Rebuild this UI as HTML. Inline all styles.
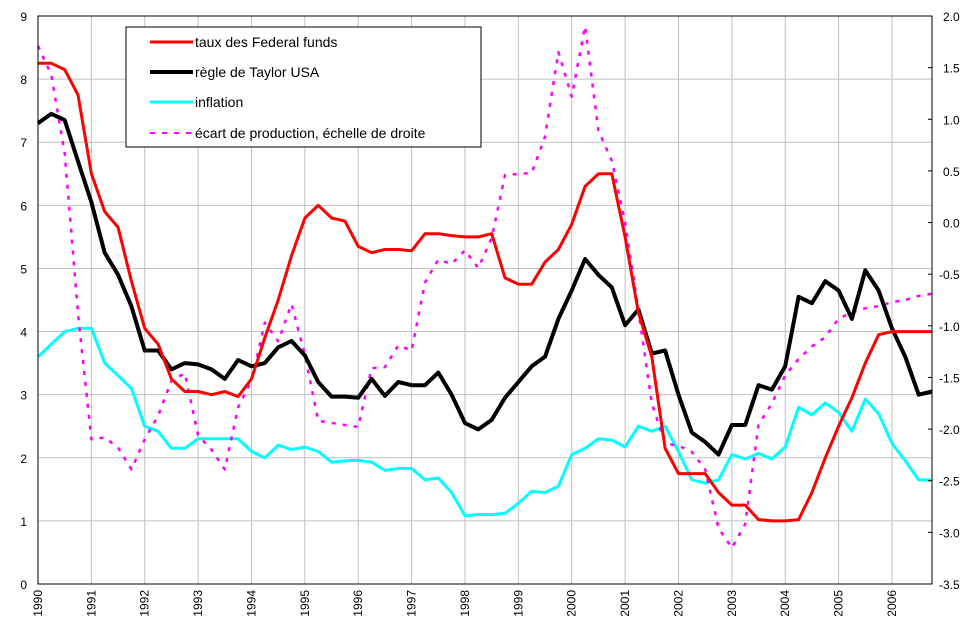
<!DOCTYPE html>
<html><head><meta charset="utf-8"><style>
html,body{margin:0;padding:0;background:#fff;}
svg text{font-family:"Liberation Sans",Arial,sans-serif;}
</style></head><body>
<svg id="chart" width="972" height="631" xmlns="http://www.w3.org/2000/svg">
<g id="grid"></g>
<g id="series"></g>
<rect x="38" y="16" width="894" height="568" fill="none" stroke="#000" stroke-width="1"/>
<g id="axes"></g>
<g>
<rect x="126" y="27" width="355" height="120" fill="#fff" stroke="#000" stroke-width="1"/>
<line x1="150" y1="42" x2="193" y2="42" stroke="#ff0000" stroke-width="3"/>
<text x="195" y="47" font-size="14">taux des Federal funds</text>
<line x1="150" y1="72" x2="193" y2="72" stroke="#000" stroke-width="4"/>
<text x="195" y="77" font-size="14">règle de Taylor USA</text>
<line x1="150" y1="102" x2="193" y2="102" stroke="#00ffff" stroke-width="3"/>
<text x="195" y="107" font-size="14">inflation</text>
<line x1="150" y1="133" x2="193" y2="133" stroke="#ff00ff" stroke-width="2" stroke-dasharray="5,7"/>
<text x="195" y="138" font-size="14">écart de production, échelle de droite</text>
</g>
</svg>
<script>
const years = ["1990","1991","1992","1993","1994","1995","1996","1997","1998","1999","2000","2001","2002","2003","2004","2005","2006"];
const leftTicks = [0,1,2,3,4,5,6,7,8,9];
const rightTicks = ["2.0","1.5","1.0","0.5","0.0","-0.5","-1.0","-1.5","-2.0","-2.5","-3.0","-3.5"];
const fedFunds = [8.25,8.25,8.15,7.75, 6.5,5.9,5.65,4.8, 4.05,3.8,3.25,3.05, 3.05,3.0,3.05,2.97, 3.25,3.9,4.5,5.2, 5.8,6.0,5.8,5.75, 5.35,5.25,5.3,5.3, 5.28,5.55,5.55,5.52, 5.5,5.5,5.55,4.85, 4.75,4.75,5.1,5.3, 5.7,6.3,6.5,6.5, 5.5,4.3,3.6,2.15, 1.75,1.75,1.75,1.45, 1.25,1.25,1.02,1.0, 1.0,1.02,1.45,2.0, 2.5,2.95,3.5,3.95, 4.0,4.0,4.0,4.0];
const taylor = [7.3,7.45,7.35,6.7, 6.05,5.25,4.9,4.4, 3.7,3.7,3.4,3.5, 3.48,3.4,3.25,3.55, 3.45,3.5,3.75,3.85, 3.62,3.2,2.97,2.97, 2.95,3.25,2.98,3.2, 3.15,3.15,3.35,3.0, 2.55,2.45,2.6,2.95, 3.2,3.45,3.6,4.2, 4.65,5.15,4.9,4.7, 4.1,4.35,3.65,3.7, 3.0,2.4,2.25,2.05, 2.52,2.52,3.15,3.08, 3.45,4.55,4.45,4.8, 4.65,4.2,4.97,4.65, 4.05,3.6,3.0,3.05];
const inflation = [3.6,3.8,4.0,4.05, 4.05,3.5,3.3,3.1, 2.5,2.42,2.15,2.15, 2.3,2.3,2.3,2.3, 2.1,2.0,2.2,2.13, 2.17,2.1,1.93,1.95, 1.96,1.93,1.8,1.83, 1.83,1.65,1.68,1.45, 1.08,1.1,1.1,1.12, 1.28,1.47,1.45,1.55, 2.05,2.15,2.3,2.28, 2.17,2.5,2.42,2.5, 2.1,1.65,1.6,1.65, 2.05,1.98,2.07,1.98, 2.17,2.8,2.68,2.87, 2.72,2.42,2.93,2.7, 2.23,1.95,1.65,1.65];
const outputGap = [1.71,1.43,0.67,-0.88, -2.1,-2.08,-2.18,-2.39, -2.1,-1.87,-1.53,-1.46, -2.06,-2.2,-2.39,-1.79, -1.53,-0.97,-1.15,-0.79, -1.28,-1.92,-1.94,-1.96, -1.98,-1.41,-1.40,-1.19, -1.24,-0.58,-0.36,-0.40, -0.27,-0.44,-0.15,0.46, 0.47,0.48,0.83,1.65, 1.22,1.9,0.89,0.6, 0.0,-0.85,-1.75,-2.14, -2.16,-2.22,-2.39,-2.96, -3.15,-2.92,-1.96,-1.75, -1.48,-1.32,-1.20,-1.11, -0.93,-0.87,-0.83,-0.81, -0.77,-0.75,-0.71,-0.69];

const NS="http://www.w3.org/2000/svg";
const X0=38,X1=932,Y0=584,Y1=16;
const nQ=fedFunds.length;
function xq(i){return X0+i*(X1-X0)/(nQ-1);}
function xYear(k){return X0+k*4*(X1-X0)/(nQ-1);}
function yL(v){return Y0-(v-0)/(9-0)*(Y0-Y1);}
function yR(v){return Y0-(v+3.5)/(2+3.5)*(Y0-Y1);}
function mk(tag,attrs,parent){const e=document.createElementNS(NS,tag);for(const k in attrs)e.setAttribute(k,attrs[k]);parent.appendChild(e);return e;}
const grid=document.getElementById('grid'),axes=document.getElementById('axes'),ser=document.getElementById('series');
leftTicks.forEach(v=>{
  const y=yL(v);
  if(v>0&&v<9){const l=mk('line',{x1:X0,x2:X1,y1:y,y2:y,stroke:'#c0c0c0','stroke-width':1},grid);
  
  }
  const t=mk('text',{x:27,y:y+5,'font-size':12,'text-anchor':'end'},axes);
  
  
  t.textContent=v;
});
years.forEach((yr,k)=>{
  const x=xYear(k);
  if(k>0){const l=mk('line',{x1:x,x2:x,y1:Y1,y2:Y0,stroke:'#c0c0c0','stroke-width':1},grid);
  
  }
  const t=mk('text',{x:0,y:0,'font-size':12,'text-anchor':'end',transform:`translate(${x+4},${Y0+6}) rotate(-90)`},axes);
  
  
  t.textContent=yr;
});
rightTicks.forEach(s=>{
  const y=yR(parseFloat(s));
  const l=mk('line',{x1:X1-4,x2:X1,y1:y,y2:y,stroke:'#000','stroke-width':1},axes);
  
  
  const t=mk('text',{x:s.startsWith('-')?939:943,y:y+5,'font-size':12},axes);
  
  
  t.textContent=s;
});
function line(data,yf,color,w,dash,name){
  const pts=data.map((v,i)=>xq(i).toFixed(1)+','+yf(v).toFixed(1)).join(' ');
  const p=mk('polyline',{points:pts,fill:'none',stroke:color,'stroke-width':w,'stroke-linejoin':'round'},ser);
  if(dash)p.setAttribute('stroke-dasharray',dash);
  
  
}
line(inflation,yL,'#00ffff',3,null,'inflation-line');
line(outputGap,yR,'#ff00ff',2.5,'4,7','output-gap-line');
line(taylor,yL,'#000000',4,null,'taylor-rule-line');
line(fedFunds,yL,'#ff0000',3,null,'fed-funds-line');
</script>
</body></html>
